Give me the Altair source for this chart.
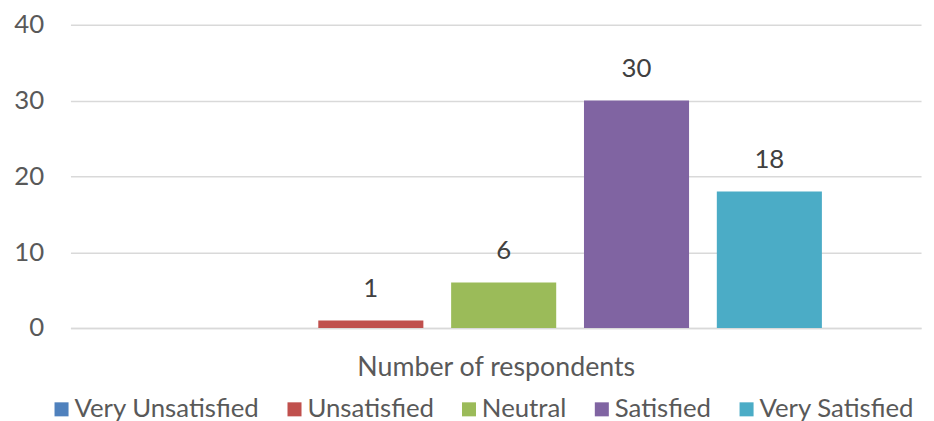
import altair as alt
import pandas as pd

series = ["Very Unsatisfied", "Unsatisfied", "Neutral", "Satisfied", "Very Satisfied"]
values = [0, 1, 6, 30, 18]
colors = ["#4F81BD", "#C0504D", "#9BBB59", "#8064A2", "#4BACC6"]
y_ticks = [0, 10, 20, 30, 40]
category_title = "Number of respondents"

df = pd.DataFrame({"series": series, "value": values})
df["label"] = [str(v) if v > 0 else "" for v in values]

FONT = "Lato"

x_enc = alt.X(
    "series:N",
    sort=series,
    title=category_title,
    scale=alt.Scale(paddingInner=0.209, paddingOuter=0.806, align=0.537),
    axis=alt.Axis(labels=False, ticks=False, domain=True, domainColor="#D9D9D9",
                  domainWidth=1.5, titleFont=FONT, titleFontSize=27,
                  titleFontWeight="normal", titleColor="#595959", titlePadding=27),
)
y_enc = alt.Y(
    "value:Q",
    title=None,
    scale=alt.Scale(domain=[0, 40]),
    axis=alt.Axis(values=y_ticks, domain=False, ticks=False, labelFont=FONT,
                  labelFontSize=26, labelColor="#595959", labelPadding=27,
                  gridColor="#D9D9D9", gridWidth=1.5),
)

bars = alt.Chart(df).mark_bar().encode(
    x=x_enc,
    y=y_enc,
    color=alt.Color(
        "series:N",
        sort=series,
        scale=alt.Scale(domain=series, range=colors),
        legend=alt.Legend(
            title=None, orient="none", legendX=-22, legendY=375,
            direction="horizontal", columns=5,
            symbolType="square", symbolSize=200, symbolStrokeWidth=0,
            labelFont=FONT, labelFontSize=26, labelColor="#595959",
            labelOffset=0, columnPadding=22, labelLimit=400,
        ),
    ),
)

text = alt.Chart(df).mark_text(
    dy=-19, font=FONT, fontSize=26, color="#404040", baseline="bottom"
).encode(
    x=alt.X("series:N", sort=series),
    y=alt.Y("value:Q"),
    text="label:N",
)

chart = (bars + text).properties(
    width=858, height=306,
    padding={"left": 5, "top": 2, "right": 5, "bottom": 5},
).configure(background="white").configure_view(strokeWidth=0)

chart.save("out.html", embed_options={"renderer": "svg", "actions": False})
